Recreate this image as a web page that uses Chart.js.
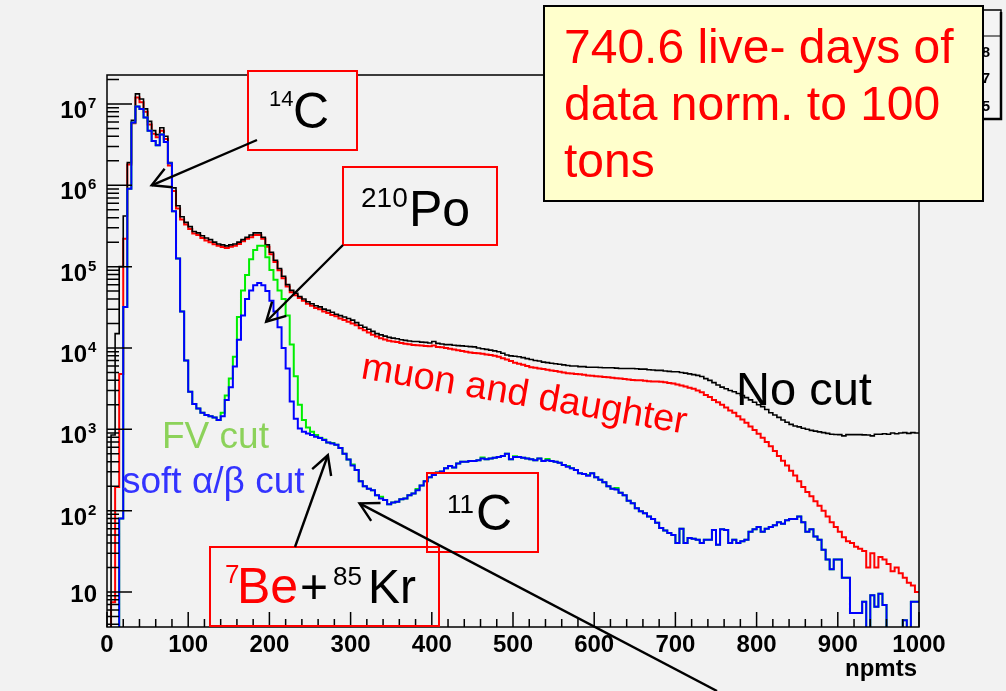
<!DOCTYPE html>
<html>
<head>
<meta charset="utf-8">
<script src="https://cdn.jsdelivr.net/npm/chart.js@4.4.1/dist/chart.umd.min.js"></script>
<style>
	html, body { margin: 0; padding: 0; background: #f2f2f2; }
	canvas { display: block; }
</style>
</head>
<body>
<canvas id="npmtsChart" width="1006" height="691"></canvas>
<script>
// histogram bins are 5 npmts wide, 200 bins from 0 to 1000
const binWidth = 5;

// no cut (black)
const noCut = [
	1, 850, 1.5e4, 1.0e5, 4.2e5, 1.9e6, 6.3e6, 1.33e7, 1.15e7, 8.7e6,
	6.1e6, 4.7e6, 4.2e6, 5.1e6, 4.0e6, 1.9e6, 9.3e5, 5.6e5, 4.1e5, 3.5e5,
	3.1e5, 2.7e5, 2.6e5, 2.4e5, 2.25e5, 2.15e5, 2.0e5, 1.9e5, 1.85e5, 1.8e5,
	1.85e5, 1.9e5, 2.0e5, 2.15e5, 2.3e5, 2.45e5, 2.6e5, 2.6e5, 2.3e5, 1.85e5,
	1.5e5, 1.2e5, 9.5e4, 7.6e4, 6.0e4, 5.1e4, 4.7e4, 4.3e4, 4.0e4, 3.7e4,
	3.5e4, 3.3e4, 3.2e4, 3.0e4, 2.9e4, 2.75e4, 2.6e4, 2.5e4, 2.4e4, 2.3e4,
	2.2e4, 2.05e4, 1.9e4, 1.8e4, 1.7e4, 1.6e4, 1.5e4, 1.45e4, 1.4e4, 1.35e4,
	1.32e4, 1.3e4, 1.26e4, 1.24e4, 1.22e4, 1.2e4, 1.2e4, 1.18e4, 1.17e4, 1.15e4,
	1.2e4, 1.14e4, 1.12e4, 1.1e4, 1.1e4, 1.08e4, 1.07e4, 1.06e4, 1.05e4, 1.04e4,
	1.03e4, 1.0e4, 9.8e3, 9.6e3, 9.4e3, 9.2e3, 9.0e3, 8.6e3, 8.2e3, 8.0e3,
	7.9e3, 7.8e3, 7.6e3, 7.4e3, 7.2e3, 7.0e3, 6.9e3, 6.7e3, 6.6e3, 6.5e3,
	6.4e3, 6.3e3, 6.2e3, 6.1e3, 6.0e3, 6.0e3, 5.9e3, 5.9e3, 5.8e3, 5.8e3,
	5.8e3, 5.75e3, 5.7e3, 5.7e3, 5.7e3, 5.65e3, 5.6e3, 5.6e3, 5.6e3, 5.6e3,
	5.55e3, 5.5e3, 5.5e3, 5.4e3, 5.35e3, 5.3e3, 5.3e3, 5.2e3, 5.15e3, 5.1e3,
	5.1e3, 5.0e3, 4.9e3, 4.8e3, 4.7e3, 4.6e3, 4.45e3, 4.2e3, 4.0e3, 3.75e3,
	3.5e3, 3.3e3, 3.15e3, 3.0e3, 2.9e3, 2.75e3, 2.6e3, 2.45e3, 2.3e3, 2.15e3,
	2.0e3, 1.9e3, 1.75e3, 1.6e3, 1.5e3, 1.4e3, 1.3e3, 1.22e3, 1.15e3, 1.1e3,
	1.07e3, 1.03e3, 1.0e3, 970, 950, 930, 910, 890, 870, 865,
	860, 830, 860, 860, 860, 860, 855, 850, 830, 870,
	870, 880, 870, 900, 880, 900, 910, 890, 910, 900
];

// muon and daughter cut (red)
const muonCut = [
	1, 7.5, 195, 4.8e3, 2.2e5, 1.8e6, 5.8e6, 1.2e7, 1.05e7, 8.0e6,
	5.6e6, 4.3e6, 3.9e6, 4.7e6, 3.7e6, 1.75e6, 8.5e5, 5.2e5, 3.8e5, 3.3e5,
	2.9e5, 2.55e5, 2.45e5, 2.25e5, 2.1e5, 2.0e5, 1.88e5, 1.8e5, 1.74e5, 1.7e5,
	1.75e5, 1.8e5, 1.9e5, 2.05e5, 2.2e5, 2.3e5, 2.45e5, 2.45e5, 2.2e5, 1.75e5,
	1.42e5, 1.14e5, 9.0e4, 7.2e4, 5.7e4, 4.85e4, 4.45e4, 4.1e4, 3.8e4, 3.5e4,
	3.3e4, 3.1e4, 3.0e4, 2.8e4, 2.7e4, 2.55e4, 2.45e4, 2.3e4, 2.2e4, 2.1e4,
	2.0e4, 1.9e4, 1.75e4, 1.65e4, 1.55e4, 1.45e4, 1.38e4, 1.32e4, 1.27e4, 1.23e4,
	1.2e4, 1.18e4, 1.15e4, 1.13e4, 1.11e4, 1.09e4, 1.08e4, 1.07e4, 1.06e4, 1.05e4,
	1.07e4, 1.03e4, 1.02e4, 1.0e4, 9.8e3, 9.6e3, 9.4e3, 9.2e3, 9.0e3, 8.8e3,
	8.7e3, 8.6e3, 8.5e3, 8.3e3, 8.2e3, 8.0e3, 7.8e3, 7.5e3, 7.2e3, 6.9e3,
	6.6e3, 6.4e3, 6.2e3, 6.0e3, 5.8e3, 5.7e3, 5.6e3, 5.5e3, 5.4e3, 5.3e3,
	5.2e3, 5.1e3, 5.0e3, 4.9e3, 4.85e3, 4.8e3, 4.75e3, 4.7e3, 4.6e3, 4.55e3,
	4.5e3, 4.45e3, 4.4e3, 4.35e3, 4.3e3, 4.25e3, 4.2e3, 4.15e3, 4.1e3, 4.05e3,
	4.0e3, 4.0e3, 3.95e3, 3.9e3, 3.88e3, 3.86e3, 3.85e3, 3.8e3, 3.7e3, 3.65e3,
	3.55e3, 3.45e3, 3.35e3, 3.25e3, 3.15e3, 3.0e3, 2.85e3, 2.65e3, 2.5e3, 2.3e3,
	2.15e3, 2.0e3, 1.85e3, 1.7e3, 1.6e3, 1.45e3, 1.32e3, 1.2e3, 1.08e3, 980,
	880, 790, 700, 620, 540, 470, 410, 360, 310, 270,
	230, 195, 170, 150, 130, 115, 100, 85, 72, 63,
	55, 47, 42, 40, 36, 34, 32, 20, 30, 20,
	27, 25, 22, 18, 20, 17, 15, 13, 12, 10
];

// FV cut (green)
const fvCut = [
	1, 1, 1, 80, 3.2e4, 9.1e5, 5.9e6, 9.3e6, 8.7e6, 6.8e6,
	4.7e6, 3.5e6, 3.1e6, 4.2e6, 3.4e6, 1.87e6, 4.8e5, 1.26e5, 2.8e4, 7.0e3,
	2.9e3, 2.05e3, 1.8e3, 1.6e3, 1.5e3, 1.45e3, 1.4e3, 1.3e3, 1.6e3, 2.6e3,
	4.2e3, 7.8e3, 2.4e4, 5.1e4, 7.9e4, 1.23e5, 1.6e5, 1.8e5, 1.8e5, 1.3e5,
	9.1e4, 6.9e4, 5.1e4, 4.0e4, 2.5e4, 1.1e4, 4.5e3, 2.0e3, 1.3e3, 1.05e3,
	930, 850, 790, 750, 690, 680, 645, 590, 500, 425,
	370, 315, 230, 200, 186, 178, 155, 148, 135, 120,
	126, 129, 138, 141, 155, 162, 185, 204, 229, 257,
	275, 295, 302, 331, 355, 339, 380, 398, 398, 407,
	407, 417, 450, 427, 437, 447, 457, 468, 501, 427,
	465, 457, 447, 437, 427, 417, 437, 407, 430, 407,
	398, 389, 363, 355, 331, 316, 288, 282, 275, 288,
	257, 240, 224, 200, 186, 190, 166, 155, 132, 123,
	107, 98, 93, 85, 79, 71, 61, 57, 53, 50,
	40, 60, 40, 46, 45, 44, 40, 44, 44, 58,
	38, 59, 58, 40, 44, 40, 42, 44, 55, 59,
	63, 55, 60, 63, 66, 72, 69, 76, 79, 79,
	85, 72, 55, 59, 48, 44, 33, 25, 19, 25,
	25, 15, 15, 5.5, 5.5, 5.5, 7.6, 1, 9.1, 6.6,
	9.5, 6.9, 1, 1, 1, 1, 4.5, 1, 7.6, 7.6
];

// soft alpha/beta cut (blue)
const alphaBetaCut = [
	1, 1, 1, 80, 3.2e4, 9.1e5, 5.9e6, 9.3e6, 8.7e6, 6.8e6,
	4.7e6, 3.5e6, 3.1e6, 4.2e6, 3.4e6, 1.87e6, 4.8e5, 1.26e5, 2.8e4, 7.0e3,
	2.9e3, 2.05e3, 1.8e3, 1.6e3, 1.5e3, 1.45e3, 1.4e3, 1.3e3, 1.45e3, 2.3e3,
	3.3e3, 5.9e3, 1.26e4, 2.5e4, 4.0e4, 5.1e4, 5.9e4, 6.3e4, 5.9e4, 5.0e4,
	3.8e4, 2.8e4, 1.8e4, 1.0e4, 5.6e3, 2.2e3, 1.35e3, 1.02e3, 930, 890,
	850, 810, 780, 740, 690, 670, 645, 590, 500, 425,
	360, 315, 230, 200, 186, 178, 155, 141, 135, 120,
	126, 129, 138, 141, 155, 162, 178, 204, 229, 257,
	275, 295, 302, 331, 355, 339, 380, 398, 398, 407,
	407, 417, 437, 427, 437, 447, 457, 468, 501, 427,
	457, 457, 447, 437, 427, 417, 437, 407, 417, 407,
	398, 389, 363, 347, 331, 316, 288, 282, 269, 288,
	257, 240, 224, 200, 186, 182, 166, 155, 132, 123,
	107, 98, 93, 85, 79, 71, 61, 57, 53, 50,
	40, 60, 40, 46, 45, 44, 40, 44, 44, 58,
	38, 59, 58, 40, 44, 40, 42, 44, 55, 59,
	63, 55, 60, 63, 66, 72, 69, 76, 79, 79,
	85, 72, 55, 59, 48, 44, 33, 25, 19, 25,
	25, 15, 15, 5.5, 5.5, 5.5, 7.6, 1, 9.1, 6.6,
	9.5, 6.9, 1, 1, 1, 1, 4.5, 1, 7.6, 7.6
];

const xMin = 0;
const xMax = 1000;
const xTicks = [0, 100, 200, 300, 400, 500, 600, 700, 800, 900, 1000];
const xMinorStep = 20;
const yMin = 3.71;
const yMax = 2.27e7;
const yDecades = [1, 2, 3, 4, 5, 6, 7];

const SANS = '"Liberation Sans", Arial, Helvetica, sans-serif';

// bin low edges plus the closing edge, for a stepped outline
function histPoints(values) {
	let pts = values.map((v, i) => {
		return { x: i * binWidth, y: v };
	});
	pts.push({ x: values.length * binWidth, y: values[values.length - 1] });
	return pts;
}

function drawArrow(ctx, x1, y1, x2, y2) {
	ctx.beginPath();
	ctx.moveTo(x1, y1);
	ctx.lineTo(x2, y2);
	ctx.stroke();
	let ang = Math.atan2(y2 - y1, x2 - x1);
	let len = 21, spread = 0.5;
	ctx.beginPath();
	ctx.moveTo(x2 - len * Math.cos(ang - spread), y2 - len * Math.sin(ang - spread));
	ctx.lineTo(x2, y2);
	ctx.lineTo(x2 - len * Math.cos(ang + spread), y2 - len * Math.sin(ang + spread));
	ctx.stroke();
}

function boxText(ctx, parts) {
	parts.forEach((p) => {
		ctx.font = p.font;
		ctx.fillStyle = p.color;
		ctx.textAlign = "left";
		ctx.textBaseline = "alphabetic";
		ctx.fillText(p.text, p.x, p.y);
	});
}

// ROOT style frame, ticks and labels
const rootFrame = {
	id: "rootFrame",
	beforeDraw(chart) {
		let ctx = chart.ctx;
		ctx.save();
		ctx.fillStyle = "#f2f2f2";
		ctx.fillRect(0, 0, chart.width, chart.height);
		ctx.restore();
	},
	afterDatasetsDraw(chart) {
		let { ctx, chartArea: a, scales } = chart;
		let x = scales.x, y = scales.y;
		ctx.save();
		ctx.strokeStyle = "#000";
		ctx.lineWidth = 1.5;
		ctx.strokeRect(a.left, a.top, a.right - a.left, a.bottom - a.top);

		// x ticks
		ctx.beginPath();
		for (let v = xMin; v <= xMax; v += xMinorStep) {
			let px = x.getPixelForValue(v);
			let len = v % 100 === 0 ? 15 : 8;
			ctx.moveTo(px, a.bottom);
			ctx.lineTo(px, a.bottom - len);
		}
		// y ticks, decades and 2..9 in between
		for (let d = 0; d <= 7; d++) {
			for (let m = 1; m <= 9; m++) {
				let v = m * Math.pow(10, d);
				if (v < yMin || v > yMax) continue;
				let py = y.getPixelForValue(v);
				let len = m === 1 ? 25 : 12;
				ctx.moveTo(a.left, py);
				ctx.lineTo(a.left + len, py);
			}
		}
		ctx.stroke();

		ctx.fillStyle = "#000";
		ctx.font = "bold 24px " + SANS;
		ctx.textAlign = "center";
		ctx.textBaseline = "alphabetic";
		xTicks.forEach((t) => {
			ctx.fillText(String(t), x.getPixelForValue(t), 652);
		});

		yDecades.forEach((d) => {
			let py = y.getPixelForValue(Math.pow(10, d));
			ctx.textAlign = "right";
			ctx.font = "bold 24px " + SANS;
			if (d === 1) {
				ctx.fillText("10", 97, py + 10);
			} else {
				ctx.fillText("10", 87, py + 14);
				ctx.textAlign = "left";
				ctx.font = "bold 15px " + SANS;
				ctx.fillText(String(d), 88, py + 4);
			}
		});

		ctx.textAlign = "right";
		ctx.font = "bold 24px " + SANS;
		ctx.fillText("npmts", 917, 676);
		ctx.restore();
	},
};

// labels, boxes and arrows on top of the histograms
const notes = {
	id: "notes",
	afterDraw(chart) {
		let { ctx, scales } = chart;
		let x = scales.x, y = scales.y;
		ctx.save();

		// 14C
		ctx.fillStyle = "#f2f2f2";
		ctx.fillRect(248, 71, 109, 79);
		ctx.strokeStyle = "#ff0000";
		ctx.lineWidth = 2;
		ctx.strokeRect(248, 71, 109, 79);
		boxText(ctx, [
			{ text: "14", x: 269, y: 106, font: "22px " + SANS, color: "#000" },
			{ text: "C", x: 293, y: 128, font: "50px " + SANS, color: "#000" },
		]);

		// 210Po
		ctx.strokeStyle = "#ff0000";
		ctx.strokeRect(343, 167, 154, 78);
		boxText(ctx, [
			{ text: "210", x: 361, y: 207, font: "28px " + SANS, color: "#000" },
			{ text: "Po", x: 409, y: 226, font: "50px " + SANS, color: "#000" },
		]);

		// 11C
		ctx.strokeStyle = "#ff0000";
		ctx.strokeRect(427, 473, 111, 79);
		boxText(ctx, [
			{ text: "11", x: 447, y: 513, font: "26px " + SANS, color: "#000" },
			{ text: "C", x: 476, y: 530, font: "50px " + SANS, color: "#000" },
		]);

		// 7Be + 85Kr
		ctx.strokeStyle = "#ff0000";
		ctx.strokeRect(210, 547, 229, 79);
		boxText(ctx, [
			{ text: "7", x: 225, y: 583, font: "26px " + SANS, color: "#ff0000" },
			{ text: "Be", x: 237, y: 603, font: "50px " + SANS, color: "#ff0000" },
			{ text: "+", x: 300, y: 603, font: "48px " + SANS, color: "#000" },
			{ text: "85", x: 333, y: 585, font: "26px " + SANS, color: "#000" },
			{ text: "Kr", x: 368, y: 603, font: "48px " + SANS, color: "#000" },
		]);

		// series names
		boxText(ctx, [
			{ text: "FV cut", x: 162, y: 448, font: "37px " + SANS, color: "#8cd25a" },
			{ text: "soft \u03b1/\u03b2 cut", x: 122, y: 493, font: "37px " + SANS, color: "#3333ff" },
			{ text: "No cut", x: 736, y: 405, font: "47px " + SANS, color: "#000" },
		]);
		ctx.save();
		ctx.translate(360, 378);
		ctx.rotate(0.17);
		ctx.font = "38px " + SANS;
		ctx.fillStyle = "#ff0000";
		ctx.textAlign = "left";
		ctx.fillText("muon and daughter", 0, 0);
		ctx.restore();

		// arrows to the features
		ctx.strokeStyle = "#000";
		ctx.lineWidth = 2.4;
		drawArrow(ctx, 257, 140, x.getPixelForValue(55), y.getPixelForValue(1.0e6));
		drawArrow(ctx, 343, 245, x.getPixelForValue(196), y.getPixelForValue(2.1e4));
		drawArrow(ctx, 295, 547, x.getPixelForValue(272), y.getPixelForValue(480));
		drawArrow(ctx, 717, 691, x.getPixelForValue(311), y.getPixelForValue(123));

		// stats box peeking out behind the note
		ctx.fillStyle = "#f4f4f4";
		ctx.fillRect(900, 10, 101, 109);
		ctx.strokeStyle = "#000";
		ctx.lineWidth = 1.5;
		ctx.strokeRect(900, 10, 101, 109);
		ctx.lineWidth = 2.5;
		ctx.beginPath();
		ctx.moveTo(1001, 12);
		ctx.lineTo(1001, 119);
		ctx.lineTo(902, 119);
		ctx.stroke();
		ctx.lineWidth = 1.2;
		ctx.beginPath();
		ctx.moveTo(900, 36);
		ctx.lineTo(1001, 36);
		ctx.stroke();
		ctx.fillStyle = "#000";
		ctx.font = "bold 15px " + SANS;
		ctx.textAlign = "right";
		ctx.fillText("8", 990, 57);
		ctx.fillText("7", 990, 83);
		ctx.fillText("5", 990, 111);

		// exposure note
		ctx.fillStyle = "#ffffcc";
		ctx.fillRect(544, 6, 439, 195);
		ctx.strokeStyle = "#000";
		ctx.lineWidth = 2;
		ctx.strokeRect(544, 6, 439, 195);
		ctx.fillStyle = "#ff0000";
		ctx.font = "48px " + SANS;
		ctx.textAlign = "left";
		ctx.fillText("740.6 live- days of", 564, 63);
		ctx.fillText("data norm. to 100", 564, 120);
		ctx.fillText("tons", 564, 177);

		ctx.restore();
	},
};

function series(values, color, width) {
	return {
		data: histPoints(values),
		borderColor: color,
		borderWidth: width,
		stepped: "before",
		fill: false,
		pointRadius: 0,
	};
}

let ctx = document.getElementById("npmtsChart");
let npmtsChart = new Chart(ctx, {
	type: "line",
	data: {
		// first dataset is painted last, so blue sits on top
		datasets: [
			series(alphaBetaCut, "#0000ff", 2),
			series(fvCut, "#00ee00", 2),
			series(noCut, "#000000", 1.6),
			series(muonCut, "#ff0000", 2),
		],
	},
	options: {
		responsive: false,
		animation: false,
		devicePixelRatio: 1,
		layout: {
			padding: { left: 107, top: 75, right: 87, bottom: 64 },
		},
		plugins: {
			legend: { display: false },
			tooltip: { enabled: false },
		},
		scales: {
			x: { type: "linear", min: xMin, max: xMax, display: false },
			y: { type: "logarithmic", min: yMin, max: yMax, display: false },
		},
	},
	plugins: [rootFrame, notes],
});
</script>
</body>
</html>
